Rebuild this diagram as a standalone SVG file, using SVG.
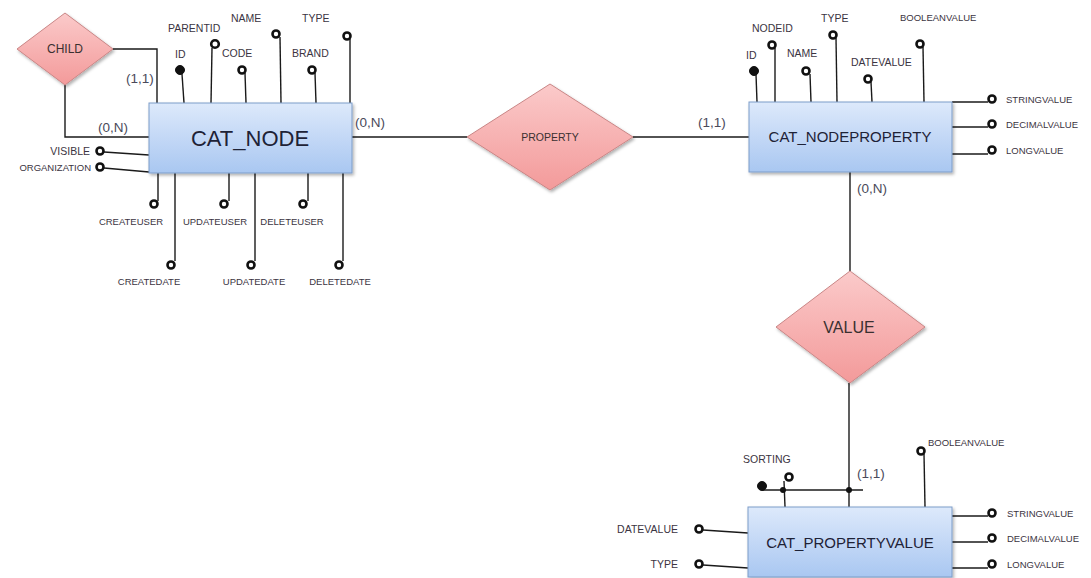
<svg xmlns="http://www.w3.org/2000/svg" width="1091" height="578" viewBox="0 0 1091 578">
  <defs>
    <linearGradient id="entityFill" x1="0" y1="0" x2="0" y2="1">
      <stop offset="0" stop-color="#dde9fb"/>
      <stop offset="1" stop-color="#a9c7f1"/>
    </linearGradient>
    <linearGradient id="relFill" x1="0" y1="0" x2="0" y2="1">
      <stop offset="0" stop-color="#fbcaca"/>
      <stop offset="1" stop-color="#f39a9a"/>
    </linearGradient>
    <filter id="shadow" x="-10%" y="-10%" width="125%" height="130%">
      <feDropShadow dx="1.5" dy="2" stdDeviation="1.5" flood-color="#000" flood-opacity="0.3"/>
    </filter>
  </defs>
  <style>
    .entity { fill: url(#entityFill); stroke: #7d9dc9; stroke-width: 1; filter: url(#shadow); }
    .rel { fill: url(#relFill); stroke: #c98686; stroke-width: 1; filter: url(#shadow); }
    .ln { fill: none; stroke: #1a1a1a; stroke-width: 1.4; }
    .att { fill: #fff; stroke: #111; stroke-width: 2.6; }
    .key { fill: #111; stroke: #111; stroke-width: 1; }
    .dot { fill: #111; }
    text { font-family: "Liberation Sans", Arial, sans-serif; fill: #3b3442; }
    .ename { font-size: 22px; fill: #1e2236; text-anchor: middle; }
    .ename2 { font-size: 15px; fill: #1e2236; text-anchor: middle; }
    .rname { text-anchor: middle; fill: #3a3030; }
    .card { font-size: 13.5px; fill: #4a4a5a; }
    .lb { font-size: 10.5px; }
    .ls { font-size: 9.5px; }
    .mid { text-anchor: middle; }
    .end { text-anchor: end; }
  </style>
  <rect width="1091" height="578" fill="#fff"/>

  <!-- connectors -->
  <g id="connectors">
    <!-- CHILD recursive relationship -->
    <polyline class="ln" points="113,49 157,49 157,103"/>
    <polyline class="ln" points="65,85 65,137 149,137"/>
    <!-- PROPERTY -->
    <line class="ln" x1="352" y1="137" x2="467" y2="137"/>
    <line class="ln" x1="633" y1="137" x2="749" y2="137"/>
    <!-- VALUE -->
    <line class="ln" x1="850" y1="172" x2="850" y2="271"/>
    <line class="ln" x1="849" y1="383" x2="849" y2="507"/>
    <!-- composite key of CAT_PROPERTYVALUE -->
    <line class="ln" x1="762" y1="490" x2="863" y2="490"/>
    <line class="ln" x1="784" y1="481" x2="785" y2="507"/>
  </g>

  <!-- CAT_NODE attributes -->
  <g id="cat-node-attributes">
    <line class="ln" x1="182" y1="74" x2="184" y2="103"/>
    <circle class="key" cx="180" cy="70" r="4.5"/>
    <text class="lb" x="175" y="58">ID</text>

    <line class="ln" x1="212" y1="48" x2="211" y2="103"/>
    <circle class="att" cx="215" cy="44" r="3.8"/>
    <text class="lb" x="168" y="32">PARENTID</text>

    <line class="ln" x1="245" y1="73" x2="246" y2="103"/>
    <circle class="att" cx="242" cy="70" r="3.5"/>
    <text class="lb" x="222" y="57">CODE</text>

    <line class="ln" x1="280" y1="37" x2="281" y2="103"/>
    <circle class="att" cx="276" cy="34" r="3.5"/>
    <text class="lb" x="231" y="22">NAME</text>

    <line class="ln" x1="315" y1="73" x2="316" y2="103"/>
    <circle class="att" cx="312" cy="70" r="3.5"/>
    <text class="lb" x="292" y="57">BRAND</text>

    <line class="ln" x1="350" y1="39" x2="350" y2="103"/>
    <circle class="att" cx="347" cy="36" r="3.5"/>
    <text class="lb" x="302" y="22">TYPE</text>

    <line class="ln" x1="104" y1="152" x2="149" y2="155"/>
    <circle class="att" cx="100" cy="151" r="3.5"/>
    <text class="lb end" x="90" y="155">VISIBLE</text>

    <line class="ln" x1="104" y1="168" x2="149" y2="172"/>
    <circle class="att" cx="100" cy="167" r="3.5"/>
    <text class="ls end" x="91" y="171">ORGANIZATION</text>

    <line class="ln" x1="158" y1="173" x2="158" y2="201"/>
    <circle class="att" cx="154" cy="204" r="3.5"/>
    <text class="ls mid" x="131" y="225">CREATEUSER</text>

    <line class="ln" x1="175" y1="173" x2="175" y2="261"/>
    <circle class="att" cx="171" cy="265" r="3.5"/>
    <text class="ls mid" x="149" y="285">CREATEDATE</text>

    <line class="ln" x1="229" y1="173" x2="229" y2="201"/>
    <circle class="att" cx="224" cy="204" r="3.5"/>
    <text class="ls mid" x="215" y="225">UPDATEUSER</text>

    <line class="ln" x1="255" y1="173" x2="255" y2="261"/>
    <circle class="att" cx="251" cy="265" r="3.5"/>
    <text class="ls mid" x="254" y="285">UPDATEDATE</text>

    <line class="ln" x1="308" y1="173" x2="308" y2="201"/>
    <circle class="att" cx="303" cy="204" r="3.5"/>
    <text class="ls mid" x="292" y="225">DELETEUSER</text>

    <line class="ln" x1="343" y1="173" x2="343" y2="261"/>
    <circle class="att" cx="339" cy="265" r="3.5"/>
    <text class="ls mid" x="340" y="285">DELETEDATE</text>
  </g>

  <!-- CAT_NODEPROPERTY attributes -->
  <g id="cat-nodeproperty-attributes">
    <line class="ln" x1="756" y1="74" x2="757" y2="102"/>
    <circle class="key" cx="754" cy="71" r="4.5"/>
    <text class="lb" x="746" y="59">ID</text>

    <line class="ln" x1="775" y1="48" x2="775" y2="102"/>
    <circle class="att" cx="772" cy="45" r="3.5"/>
    <text class="lb" x="752" y="32">NODEID</text>

    <line class="ln" x1="810" y1="74" x2="811" y2="102"/>
    <circle class="att" cx="806" cy="71" r="3.5"/>
    <text class="lb" x="787" y="57">NAME</text>

    <line class="ln" x1="836" y1="38" x2="837" y2="102"/>
    <circle class="att" cx="833" cy="35" r="3.5"/>
    <text class="lb" x="821" y="22">TYPE</text>

    <line class="ln" x1="871" y1="82" x2="872" y2="102"/>
    <circle class="att" cx="868" cy="79" r="3.5"/>
    <text class="lb" x="851" y="66">DATEVALUE</text>

    <line class="ln" x1="923" y1="47" x2="924" y2="102"/>
    <circle class="att" cx="920" cy="44" r="3.5"/>
    <text class="ls" x="900" y="21">BOOLEANVALUE</text>

    <line class="ln" x1="952" y1="102" x2="988" y2="102"/>
    <circle class="att" cx="992" cy="99" r="3.5"/>
    <text class="ls" x="1006" y="103">STRINGVALUE</text>

    <line class="ln" x1="952" y1="127" x2="988" y2="127"/>
    <circle class="att" cx="992" cy="124" r="3.5"/>
    <text class="ls" x="1006" y="128">DECIMALVALUE</text>

    <line class="ln" x1="952" y1="154" x2="988" y2="154"/>
    <circle class="att" cx="992" cy="150" r="3.5"/>
    <text class="ls" x="1006" y="154">LONGVALUE</text>
  </g>

  <!-- CAT_PROPERTYVALUE attributes -->
  <g id="cat-propertyvalue-attributes">
    <circle class="key" cx="762" cy="486" r="4.5"/>
    <circle class="dot" cx="783" cy="490" r="3"/>
    <circle class="dot" cx="849" cy="490" r="3"/>
    <circle class="att" cx="789" cy="477" r="3.5"/>
    <text class="lb" x="743" y="463">SORTING</text>

    <line class="ln" x1="924" y1="454" x2="925" y2="507"/>
    <circle class="att" cx="921" cy="451" r="3.5"/>
    <text class="ls" x="928" y="446">BOOLEANVALUE</text>

    <line class="ln" x1="952" y1="516" x2="988" y2="516"/>
    <circle class="att" cx="992" cy="513" r="3.5"/>
    <text class="ls" x="1007" y="517">STRINGVALUE</text>

    <line class="ln" x1="952" y1="542" x2="988" y2="542"/>
    <circle class="att" cx="992" cy="538" r="3.5"/>
    <text class="ls" x="1007" y="542">DECIMALVALUE</text>

    <line class="ln" x1="952" y1="568" x2="988" y2="568"/>
    <circle class="att" cx="992" cy="564" r="3.5"/>
    <text class="ls" x="1007" y="568">LONGVALUE</text>

    <line class="ln" x1="703" y1="530" x2="748" y2="533"/>
    <circle class="att" cx="699" cy="529" r="3.5"/>
    <text class="lb end" x="678" y="533">DATEVALUE</text>

    <line class="ln" x1="703" y1="565" x2="748" y2="568"/>
    <circle class="att" cx="699" cy="564" r="3.5"/>
    <text class="lb end" x="678" y="568">TYPE</text>
  </g>

  <!-- cardinalities -->
  <g id="cardinalities">
    <text class="card" x="126" y="83">(1,1)</text>
    <text class="card" x="98" y="132">(0,N)</text>
    <text class="card" x="355" y="127">(0,N)</text>
    <text class="card" x="698" y="127">(1,1)</text>
    <text class="card" x="857" y="193">(0,N)</text>
    <text class="card" x="857" y="478">(1,1)</text>
  </g>

  <!-- entities -->
  <g id="cat-node">
    <rect class="entity" x="149" y="103" width="203" height="70"/>
    <text class="ename" x="250" y="146">CAT_NODE</text>
  </g>
  <g id="cat-nodeproperty">
    <rect class="entity" x="749" y="102" width="203" height="70"/>
    <text class="ename2" x="850" y="142">CAT_NODEPROPERTY</text>
  </g>
  <g id="cat-propertyvalue">
    <rect class="entity" x="748" y="507" width="204" height="70"/>
    <text class="ename2" x="850" y="548">CAT_PROPERTYVALUE</text>
  </g>

  <!-- relationships -->
  <g id="child">
    <polygon class="rel" points="65,13 113,49 65,85 17,49"/>
    <text class="rname" x="65" y="53" font-size="12">CHILD</text>
  </g>
  <g id="property">
    <polygon class="rel" points="550,84 633,137 550,190 467,137"/>
    <text class="rname" x="550" y="141" font-size="10.5">PROPERTY</text>
  </g>
  <g id="value">
    <polygon class="rel" points="850,271 925,327 850,383 776,327"/>
    <text class="rname" x="849" y="333" font-size="16">VALUE</text>
  </g>
</svg>
